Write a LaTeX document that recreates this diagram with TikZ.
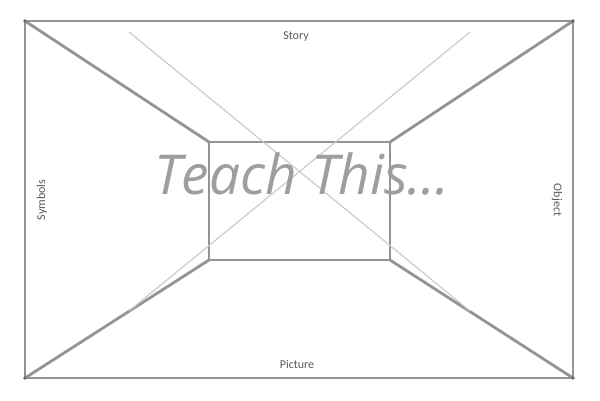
\documentclass[tikz,border=0pt]{standalone}
\usepackage{fontspec}
\setmainfont{Carlito}
\newfontfamily\wmfont{Open Sans}
\begin{document}
\begin{tikzpicture}[x=1pt,y=-1pt,
  frame/.style={draw=black!42,line width=2.8pt,line join=miter},
  wline/.style={draw=black!20,line width=1.2pt},
  lbl/.style={font=\fontsize{12}{13}\selectfont,text=black!65,inner sep=0pt},
  wm/.style={font=\wmfont\itshape\fontsize{55}{60}\selectfont,inner sep=0pt}]
\useasboundingbox (0,0) rectangle (600,400);
\fill[white] (0,0) rectangle (600,400);
% outer corners
\coordinate (o1) at (25,21);
\coordinate (o2) at (573,21);
\coordinate (o3) at (573,378);
\coordinate (o4) at (25,378);
% inner corners
\coordinate (i1) at (209,142);
\coordinate (i2) at (390,142);
\coordinate (i3) at (390,260);
\coordinate (i4) at (209,260);
\draw[frame] (o1) -- (o2) -- (o3) -- (o4) -- cycle;
\draw[frame] (i1) -- (i2) -- (i3) -- (i4) -- cycle;
\draw[frame] (o1) -- (i1);
\draw[frame] (o2) -- (i2);
\draw[frame] (o3) -- (i3);
\draw[frame] (o4) -- (i4);
\foreach \c in {o1,o2,o3,o4} \fill[black!60] (\c) circle (1.8pt);
% labels
\node[lbl] (story) at (296,37) {Story};
\node[lbl] (picture) at (297,364) {Picture};
\node[lbl,rotate=90] (symbols) at (42,200) {Symbols};
\node[lbl,rotate=-90] (object) at (557,200) {Object};
% watermark
\coordinate (w1) at (129,32);
\coordinate (w2) at (470,311);
\coordinate (w3) at (470,32);
\coordinate (w4) at (129,311);
\draw[wline] (w1) -- (w2);
\draw[wline] (w3) -- (w4);
\node[wm,text=black!38] (wmtext) at (302,174) {Teach This...};
\end{tikzpicture}
\end{document}
